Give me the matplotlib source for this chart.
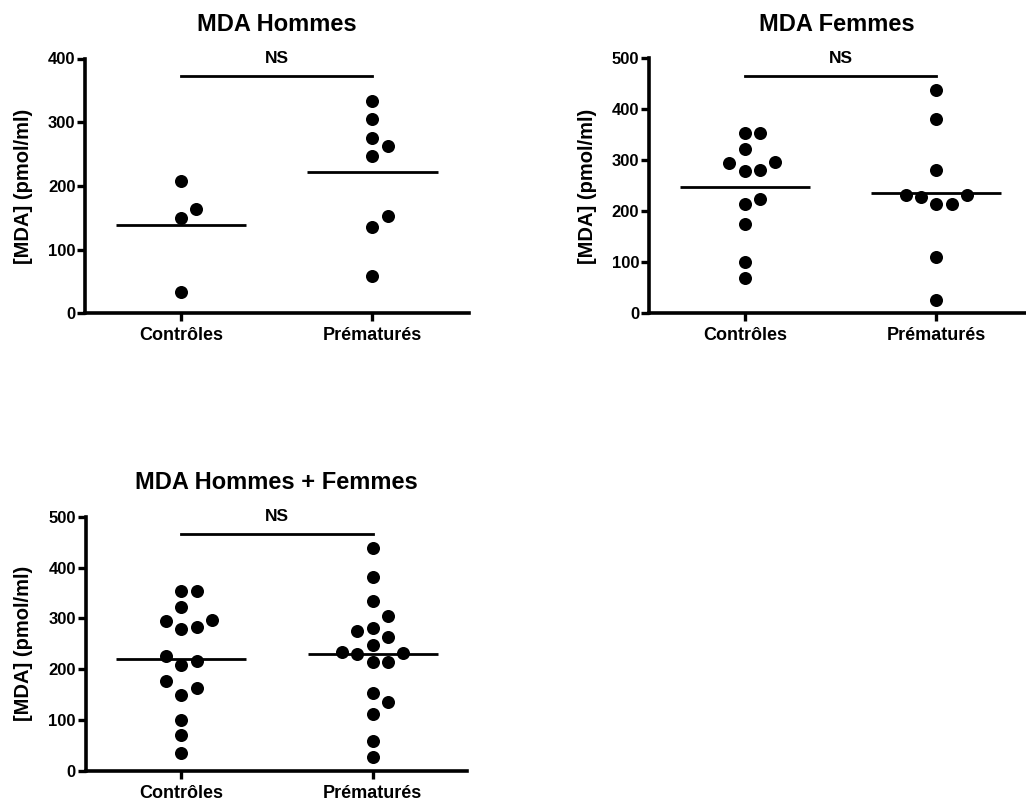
import numpy as np
import matplotlib
matplotlib.use("Agg")
import matplotlib.pyplot as plt
from matplotlib import transforms

plt.rcParams['font.family'] = ['Liberation Sans', 'DejaVu Sans']
plt.rcParams['font.weight'] = 'bold'

# values (pmol/ml)
groupes = ["Contrôles", "Prématurés"]
hommes_controles = [208, 163, 149, 34]
hommes_prematures = [334, 305, 275, 263, 247, 153, 135, 58]
femmes_controles = [354, 354, 322, 296, 295, 282, 279, 225, 215, 176, 100, 70]
femmes_prematures = [438, 382, 281, 233, 232, 229, 214, 214, 111, 27]
tous_controles = hommes_controles + femmes_controles
tous_prematures = hommes_prematures + femmes_prematures

titres = ["MDA Hommes", "MDA Femmes", "MDA Hommes + Femmes"]
ymax_list = [400, 500, 500]
signif = "NS"
ylabel = "[MDA] (pmol/ml)"

W, H = 1026, 801
fig = plt.figure(figsize=(W / 100, H / 100), dpi=100)


def px_rect(left, top, right, bottom):
    return [left / W, 1 - bottom / H, (right - left) / W, (bottom - top) / H]


rects = [px_rect(85.2, 58.5, 469, 313.3),
         px_rect(649, 58.5, 1025, 313.3),
         px_rect(85.5, 516.7, 467, 770.7)]


def swarm(values, ax, col_step=0.08, min_px=15.0):
    """simple grid beeswarm: lowest values first, columns 0, +1, -1, +2 ..."""
    vals = np.asarray(values, dtype=float)
    ymin, ymax = ax.get_ylim()
    px_per_unit = ax.bbox.height / (ymax - ymin)
    offs = np.zeros(len(vals))
    placed = []
    for i in np.argsort(vals, kind="stable"):
        y = vals[i] * px_per_unit
        for col in [0, 1, -1, 2, -2, 3, -3, 4, -4]:
            if all(not (c == col and abs(y - yy) < min_px) for c, yy in placed):
                break
        placed.append((col, y))
        offs[i] = col * col_step
    return offs


panels = [(hommes_controles, hommes_prematures),
          (femmes_controles, femmes_prematures),
          (tous_controles, tous_prematures)]

for rect, titre, ymax, (ctrl, prem) in zip(rects, titres, ymax_list, panels):
    ax = fig.add_axes(rect)
    ax.set_xlim(-0.5, (rect[2] * W) / 191.5 - 0.5)
    ax.set_ylim(0, ymax)

    for k, vals in enumerate([ctrl, prem]):
        offs = swarm(vals, ax)
        ax.scatter(k + offs, vals, s=88, color="black", zorder=3, clip_on=False,
                   linewidths=0)
        ax.hlines(np.mean(vals), k - 0.34, k + 0.34, color="black", lw=2.0, zorder=2)

    # significance bar
    trans = transforms.blended_transform_factory(ax.transData, ax.transAxes)
    ax.plot([0, 1], [0.933, 0.933], color="black", lw=2.0, transform=trans, clip_on=False)
    ax.text(0.5, 1.0, signif, transform=trans, ha="center", va="center",
            fontsize=12.5, fontweight="bold")

    ax.set_xticks([0, 1])
    ax.set_xticklabels(groupes, fontsize=13, fontweight="bold")
    ax.set_yticks(np.arange(0, ymax + 1, 100))
    ax.tick_params(axis="y", labelsize=12, length=6, width=2.4, pad=1)
    ax.tick_params(axis="x", length=6, width=2.4, pad=4)
    for side in ["top", "right"]:
        ax.spines[side].set_visible(False)
    for side in ["left", "bottom"]:
        ax.spines[side].set_linewidth(2.6)
        ax.spines[side].set_capstyle("projecting")

    ax.set_title(titre, fontsize=17, fontweight="bold", pad=20)
    ax.set_ylabel(ylabel, fontsize=14.5, fontweight="bold")
    ax.yaxis.set_label_coords(-0.137, 0.5)

fig.savefig("out.png", dpi=100)
